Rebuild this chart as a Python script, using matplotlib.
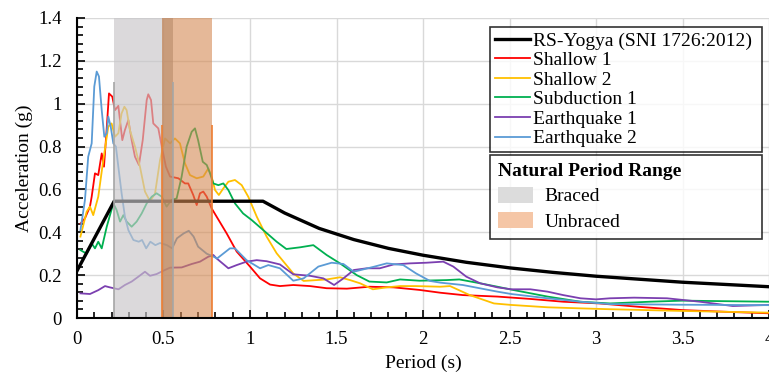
import matplotlib
matplotlib.use("Agg")
import matplotlib.pyplot as plt
from matplotlib.patches import Patch
from matplotlib.ticker import MultipleLocator, FuncFormatter

plt.rcParams['font.family'] = ['Liberation Serif', 'DejaVu Serif']

# design spectrum
rs_T = [0, 0.215, 1.075, 1.2, 1.4, 1.6, 1.8, 2.0, 2.25, 2.5, 2.75, 3.0, 3.5, 4.0]
rs_A = [0.22, 0.545, 0.545, 0.49, 0.418, 0.366, 0.325, 0.293, 0.26, 0.234, 0.213, 0.195, 0.167, 0.146]

# ground motion response spectra
shallow1_T = [0.02, 0.046, 0.075, 0.085, 0.104, 0.123, 0.143, 0.156, 0.17, 0.185, 0.204, 0.22, 0.239,
              0.262, 0.277, 0.297, 0.316, 0.335, 0.358, 0.38, 0.403, 0.412, 0.428, 0.441, 0.47, 0.49,
              0.514, 0.538, 0.586, 0.624, 0.643, 0.672, 0.692, 0.711, 0.73, 0.75, 0.778, 0.807, 0.865,
              0.923, 1.0, 1.058, 1.116, 1.173, 1.25, 1.347, 1.443, 1.56, 1.69, 1.83, 1.98, 2.10,
              2.23, 2.43, 2.62, 2.81, 3.02, 3.25, 3.5, 3.75, 4.0]
shallow1_A = [0.44, 0.465, 0.52, 0.566, 0.675, 0.667, 0.768, 0.706, 0.862, 1.048, 1.033, 0.97, 0.99,
              0.83, 0.877, 0.924, 0.83, 0.753, 0.714, 0.83, 1.017, 1.044, 1.017, 0.908, 0.885, 0.80,
              0.706, 0.66, 0.652, 0.628, 0.628, 0.574, 0.527, 0.582, 0.59, 0.566, 0.512, 0.473, 0.395,
              0.31, 0.24, 0.185, 0.156, 0.149, 0.154, 0.149, 0.139, 0.137, 0.146, 0.143, 0.131, 0.118,
              0.107, 0.10, 0.089, 0.076, 0.068, 0.052, 0.037, 0.029, 0.022]

shallow2_T = [0.02, 0.056, 0.075, 0.094, 0.123, 0.152, 0.181, 0.20, 0.22, 0.239, 0.258, 0.274, 0.287,
              0.306, 0.335, 0.364, 0.393, 0.422, 0.451, 0.48, 0.509, 0.538, 0.566, 0.595, 0.624, 0.653,
              0.692, 0.73, 0.759, 0.778, 0.798, 0.82, 0.846, 0.875, 0.913, 0.952, 0.99, 1.039, 1.096,
              1.154, 1.25, 1.31, 1.385, 1.443, 1.52, 1.578, 1.636, 1.71, 1.79, 1.867, 1.96, 2.10,
              2.156, 2.27, 2.41, 2.51, 2.72, 2.91, 3.08, 3.5, 4.0]
shallow2_A = [0.38, 0.496, 0.52, 0.48, 0.566, 0.737, 0.893, 0.908, 0.846, 0.862, 0.955, 0.986, 0.97,
              0.877, 0.80, 0.706, 0.59, 0.545, 0.58, 0.737, 0.838, 0.815, 0.838, 0.815, 0.722, 0.667,
              0.652, 0.66, 0.698, 0.66, 0.597, 0.574, 0.605, 0.636, 0.644, 0.62, 0.566, 0.473, 0.38,
              0.302, 0.208, 0.173, 0.177, 0.18, 0.19, 0.177, 0.162, 0.134, 0.143, 0.149, 0.149, 0.146,
              0.149, 0.107, 0.068, 0.061, 0.05, 0.045, 0.041, 0.033, 0.025]

subduction1_T = [0.02, 0.056, 0.085, 0.104, 0.123, 0.143, 0.172, 0.21, 0.229, 0.249, 0.268, 0.287,
                 0.316, 0.345, 0.374, 0.403, 0.432, 0.46, 0.49, 0.518, 0.547, 0.576, 0.605, 0.634,
                 0.663, 0.682, 0.70, 0.727, 0.75, 0.769, 0.788, 0.817, 0.846, 0.875, 0.913, 0.96, 1.01,
                 1.077, 1.154, 1.21, 1.29, 1.366, 1.443, 1.52, 1.617, 1.69, 1.79, 1.867, 1.98, 2.137,
                 2.21, 2.33, 2.43, 2.52, 2.72, 2.91, 3.08, 3.31, 3.5, 4.0]
subduction1_A = [0.317, 0.30, 0.348, 0.325, 0.356, 0.325, 0.426, 0.535, 0.504, 0.45, 0.48, 0.45,
                 0.426, 0.45, 0.488, 0.535, 0.566, 0.582, 0.566, 0.52, 0.551, 0.558, 0.66, 0.80,
                 0.869, 0.885, 0.83, 0.729, 0.714, 0.675, 0.628, 0.62, 0.628, 0.597, 0.535, 0.488, 0.457,
                 0.41, 0.356, 0.322, 0.33, 0.34, 0.294, 0.255, 0.2, 0.17, 0.166, 0.18, 0.174, 0.177,
                 0.18, 0.162, 0.146, 0.131, 0.10, 0.076, 0.068, 0.076, 0.081, 0.076]

earthquake1_T = [0.02, 0.075, 0.123, 0.162, 0.19, 0.24, 0.277, 0.316, 0.355, 0.393, 0.422, 0.46, 0.50,
                 0.538, 0.605, 0.663, 0.711, 0.759, 0.788, 0.807, 0.875, 0.923, 0.98, 1.039, 1.096,
                 1.173, 1.25, 1.347, 1.424, 1.486, 1.54, 1.6, 1.675, 1.75, 1.83, 1.925, 2.02, 2.117,
                 2.175, 2.25, 2.33, 2.43, 2.51, 2.62, 2.72, 2.81, 2.91, 3.0, 3.08, 3.22, 3.41, 3.6,
                 3.79, 4.0]
earthquake1_A = [0.115, 0.112, 0.13, 0.149, 0.143, 0.134, 0.154, 0.17, 0.193, 0.216, 0.197, 0.205,
                 0.221, 0.235, 0.236, 0.252, 0.263, 0.286, 0.294, 0.278, 0.232, 0.247, 0.263, 0.27,
                 0.265, 0.25, 0.204, 0.197, 0.185, 0.154, 0.185, 0.224, 0.232, 0.232, 0.25, 0.255,
                 0.258, 0.263, 0.24, 0.193, 0.162, 0.143, 0.134, 0.134, 0.123, 0.107, 0.092, 0.087,
                 0.092, 0.095, 0.092, 0.076, 0.056, 0.061]

earthquake2_T = [0.02, 0.046, 0.065, 0.085, 0.10, 0.114, 0.127, 0.143, 0.158, 0.172, 0.181, 0.195,
                 0.21, 0.225, 0.239, 0.258, 0.277, 0.297, 0.326, 0.357, 0.376, 0.40, 0.424, 0.453,
                 0.48, 0.52, 0.55, 0.578, 0.617, 0.646, 0.674, 0.70, 0.75, 0.79, 0.81, 0.884, 0.913,
                 0.98, 1.058, 1.106, 1.173, 1.25, 1.31, 1.395, 1.472, 1.54, 1.6, 1.655, 1.72, 1.79,
                 1.886, 1.96, 2.04, 2.1, 2.23, 2.43, 2.51, 2.72, 2.91, 3.08, 3.5, 4.0]
earthquake2_A = [0.41, 0.55, 0.753, 0.815, 1.08, 1.15, 1.127, 0.97, 0.846, 0.862, 0.94, 0.893,
                 0.815, 0.80, 0.706, 0.582, 0.473, 0.41, 0.364, 0.356, 0.364, 0.325, 0.356, 0.34,
                 0.35, 0.34, 0.325, 0.372, 0.395, 0.407, 0.38, 0.333, 0.30, 0.286, 0.278, 0.325, 0.325,
                 0.27, 0.232, 0.247, 0.232, 0.174, 0.185, 0.24, 0.258, 0.252, 0.216, 0.227, 0.24, 0.255,
                 0.247, 0.208, 0.173, 0.165, 0.154, 0.123, 0.112, 0.092, 0.076, 0.065, 0.062, 0.06]

# natural period ranges (s) and height of the marker lines (g)
braced_range = (0.215, 0.557)
unbraced_range = (0.493, 0.782)
braced_mark = 1.1
unbraced_mark = 0.9

series = [
    ("Shallow 1", shallow1_T, shallow1_A, "#ff0000"),
    ("Shallow 2", shallow2_T, shallow2_A, "#ffc000"),
    ("Subduction 1", subduction1_T, subduction1_A, "#00b050"),
    ("Earthquake 1", earthquake1_T, earthquake1_A, "#7b3fb0"),
    ("Earthquake 2", earthquake2_T, earthquake2_A, "#5b9bd5"),
]

fig = plt.figure(figsize=(7.69, 3.78), dpi=100)
ax = fig.add_axes([0.1001, 0.1587, 0.9, 0.7937])

line_handles = []
h, = ax.plot(rs_T, rs_A, color="black", lw=2.4, zorder=2.5, label="RS-Yogya (SNI 1726:2012)")
line_handles.append(h)
for name, T, A, c in series:
    h, = ax.plot(T, A, color=c, lw=1.3, zorder=2, label=name)
    line_handles.append(h)

# shaded period ranges drawn over the spectra
ax.axvspan(*braced_range, color="#c8c6c9", alpha=0.65, lw=0, zorder=3)
ax.axvspan(*unbraced_range, color="#d48953", alpha=0.6, lw=0, zorder=3)
overlap = (max(braced_range[0], unbraced_range[0]), min(braced_range[1], unbraced_range[1]))
ax.axvspan(*overlap, color="#5a2a00", alpha=0.1, lw=0, zorder=3)
ax.vlines(braced_range, 0, braced_mark, color="#a6a6a6", lw=1.2, zorder=3)
ax.vlines(unbraced_range, 0, unbraced_mark, color="#ed7d31", lw=1.2, zorder=3)

ax.set_xlim(0, 4)
ax.set_ylim(0, 1.4)
ax.xaxis.set_major_locator(MultipleLocator(0.5))
ax.xaxis.set_minor_locator(MultipleLocator(0.1))
ax.yaxis.set_major_locator(MultipleLocator(0.2))
ax.yaxis.set_minor_locator(MultipleLocator(0.04))
fmt = FuncFormatter(lambda v, p: f"{v:g}")
ax.xaxis.set_major_formatter(fmt)
ax.yaxis.set_major_formatter(fmt)
ax.tick_params(which="both", direction="in", colors="black", labelsize=13.5, width=1.2)
ax.tick_params(which="major", length=6)
ax.tick_params(which="minor", length=4)
ax.tick_params(axis="x", pad=9)
ax.tick_params(axis="y", pad=11)
ax.grid(True, which="major", color="#d9d9d9", lw=1, zorder=0)
ax.set_axisbelow(True)
for s in ("top", "right"):
    ax.spines[s].set_visible(False)
for s in ("left", "bottom"):
    ax.spines[s].set_linewidth(1.5)
    ax.spines[s].set_zorder(5)

ax.set_xlabel("Period (s)", fontsize=14, labelpad=5)
ax.set_ylabel("Acceleration (g)", fontsize=14, labelpad=4)

leg1 = ax.legend(handles=line_handles, loc="upper left", bbox_to_anchor=(0.597, 0.97, 0.393, 0.0),
                 mode="expand", fontsize=14, frameon=True, fancybox=False, edgecolor="black",
                 handlelength=1.8, handletextpad=0.15, labelspacing=0.1, borderpad=0.25,
                 borderaxespad=0)
leg1.get_frame().set_linewidth(1.2)
leg1.set_zorder(6)
ax.add_artist(leg1)

range_handles = [Patch(facecolor="#dcdcdc", label="Braced"),
                 Patch(facecolor="#f5c6a6", label="Unbraced")]
leg2 = ax.legend(handles=range_handles, loc="upper left", bbox_to_anchor=(0.597, 0.543, 0.393, 0.0),
                 mode="expand", title="Natural Period Range",
                 title_fontproperties={"weight": "bold", "size": 14},
                 fontsize=14, frameon=True, fancybox=False, edgecolor="black",
                 handlelength=1.8, handleheight=0.9, handletextpad=0.6, labelspacing=0.35,
                 borderpad=0.4, borderaxespad=0, alignment="left")
leg2.get_frame().set_linewidth(1.2)
leg2.set_zorder(6)

fig.savefig("out.png", dpi=100)
